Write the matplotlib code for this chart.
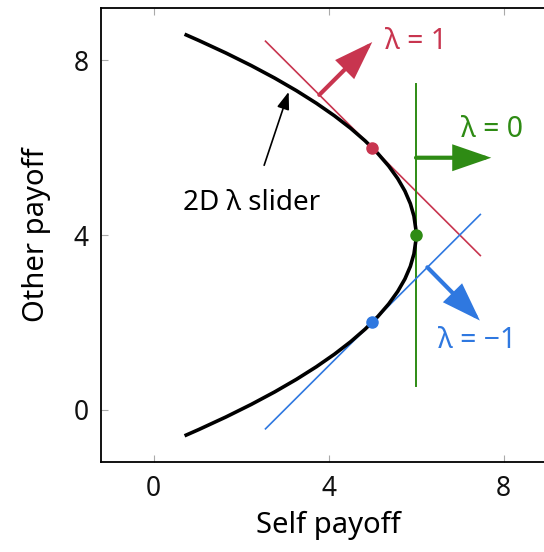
import matplotlib.pyplot as plt
from matplotlib.path import Path
from matplotlib.patches import PathPatch, FancyArrowPatch

plt.rcParams['font.family'] = ['Noto Sans', 'DejaVu Sans']

RED = '#c8354f'
GREEN = '#2e8b14'
BLUE = '#2f78e0'

# parabola x = 6 - (y - 4)^2 / 4, drawn as a quadratic bezier
curve_start = (0.71, 8.6)
curve_ctrl = (11.29, 4.0)
curve_end = (0.71, -0.6)

# tangent points and lines
pts_x = [5, 6, 5]
pts_y = [6, 4, 2]
pt_colors = [RED, GREEN, BLUE]
red_line = ([2.56, 7.47], [8.44, 3.53])
green_line = ([6.0, 6.0], [0.55, 7.45])
blue_line = ([2.56, 7.47], [-0.44, 4.47])

# (tail, head) for the direction arrows
arrows = [((3.79, 7.21), (5.0, 8.42), RED),
          ((6.0, 5.77), (7.72, 5.77), GREEN),
          ((6.26, 3.26), (7.46, 2.04), BLUE)]

labels = [('λ = 1', 6.0, 8.44, RED),
          ('λ = 0', 7.73, 6.42, GREEN),
          ('λ = −1', 7.4, 1.59, BLUE)]

fig = plt.figure(figsize=(5.44, 5.52), dpi=100)
ax = fig.add_axes([101 / 544, 90 / 552, 455 / 544, 454 / 552])

path = Path([curve_start, curve_ctrl, curve_end], [Path.MOVETO, Path.CURVE3, Path.CURVE3])
ax.add_patch(PathPatch(path, fill=False, lw=2.6, color='black', capstyle='butt', zorder=3))

ax.plot(*red_line, color=RED, lw=1.2, zorder=2)
ax.plot(*green_line, color=GREEN, lw=1.4, zorder=2)
ax.plot(*blue_line, color=BLUE, lw=1.2, zorder=2)
for x, y, c in zip(pts_x, pts_y, pt_colors):
    ax.plot(x, y, 'o', color=c, ms=8, zorder=4)

for tail, head, c in arrows:
    ax.add_patch(FancyArrowPatch(tail, head, arrowstyle='-|>,head_length=1.1,head_width=0.38',
                                 mutation_scale=20, color=c, lw=3, shrinkA=0, shrinkB=0,
                                 joinstyle='miter', zorder=3))

for txt, x, y, c in labels:
    ax.text(x, y, txt, color=c, fontsize=20.5, ha='center', va='center')

ax.annotate('2D λ slider', xy=(3.09, 7.28), xytext=(2.24, 4.73), fontsize=20,
            ha='center', va='center',
            arrowprops=dict(arrowstyle='-|>,head_length=0.7,head_width=0.25', color='black',
                            lw=1.2, shrinkA=16, shrinkB=0, mutation_scale=15))

ax.set_xlim(-1.2, 9.2)
ax.set_ylim(-1.2, 9.2)
ax.set_xticks([0, 4, 8])
ax.set_yticks([0, 4, 8])
ax.tick_params(direction='in', length=5, color='#aaaaaa', top=True, right=True,
               labelsize=19, labelcolor='#111111', pad=9)
for s in ax.spines.values():
    s.set_linewidth(1.3)
ax.set_xlabel('Self payoff', fontsize=21, labelpad=6)
ax.set_ylabel('Other payoff', fontsize=21, labelpad=16)

fig.savefig('out.png', dpi=100)
